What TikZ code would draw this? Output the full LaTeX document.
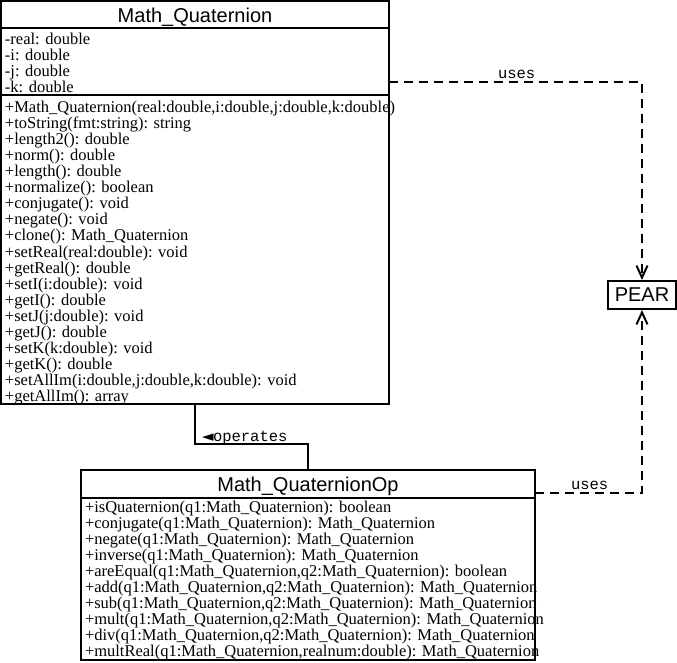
\documentclass[tikz,border=0pt]{standalone}
\usepackage{fontspec}
\setmainfont{Liberation Serif}
\newfontfamily\hv{Liberation Sans}
\newfontfamily\mono{Liberation Mono}
\newfontfamily\djv{DejaVu Sans}
\usetikzlibrary{arrows.meta}
\begin{document}
\begin{tikzpicture}[x=1pt,y=-1pt,line width=2pt,
  cls/.style={draw,line width=2pt,rectangle,inner sep=0pt,outer sep=0pt,anchor=north west},
  row/.style={anchor=base west,inner sep=0pt,font=\fontsize{16.5}{16}\selectfont},
  ttl/.style={anchor=base,inner sep=0pt,font=\hv\fontsize{20}{22}\selectfont},
  lbl/.style={anchor=base west,inner sep=0pt,font=\mono\fontsize{15.5}{16}\selectfont},
  dep/.style={line width=2pt,dash pattern=on 9pt off 6pt,-{Straight Barb[length=12pt,width=11pt,line width=2pt]}}]
\useasboundingbox (0,0) rectangle (677,663);
% class Math_Quaternion
\node[cls,minimum width=388pt,minimum height=403pt] (mq) at (1,1) {};
\draw (1,28) -- (389,28);
\draw (1,95) -- (389,95);
\node[ttl] (mqt) at (195,22.5) {Math\_Quaternion};
\foreach \t [count=\i from 0] in {{-real: double},{-i: double},{-j: double},{-k: double}}
  \node[row] (a\i) at (4,45+16*\i) {\t};
\foreach \t [count=\i from 0] in {
  {+Math\_Quaternion(real:double,i:double,j:double,k:double)},
  {+toString(fmt:string): string},
  {+length2(): double},
  {+norm(): double},
  {+length(): double},
  {+normalize(): boolean},
  {+conjugate(): void},
  {+negate(): void},
  {+clone(): Math\_Quaternion},
  {+setReal(real:double): void},
  {+getReal(): double},
  {+setI(i:double): void},
  {+getI(): double},
  {+setJ(j:double): void},
  {+getJ(): double},
  {+setK(k:double): void},
  {+getK(): double},
  {+setAllIm(i:double,j:double,k:double): void},
  {+getAllIm(): array}}
  \node[row] (m\i) at (4,112.5+16.06*\i) {\t};
% class Math_QuaternionOp
\node[cls,minimum width=454pt,minimum height=190pt] (mqo) at (81,470) {};
\draw (81,498) -- (535,498);
\node[ttl] (mqot) at (308,491.7) {Math\_QuaternionOp};
\foreach \t [count=\i from 0] in {
  {+isQuaternion(q1:Math\_Quaternion): boolean},
  {+conjugate(q1:Math\_Quaternion): Math\_Quaternion},
  {+negate(q1:Math\_Quaternion): Math\_Quaternion},
  {+inverse(q1:Math\_Quaternion): Math\_Quaternion},
  {+areEqual(q1:Math\_Quaternion,q2:Math\_Quaternion): boolean},
  {+add(q1:Math\_Quaternion,q2:Math\_Quaternion): Math\_Quaternion},
  {+sub(q1:Math\_Quaternion,q2:Math\_Quaternion): Math\_Quaternion},
  {+mult(q1:Math\_Quaternion,q2:Math\_Quaternion): Math\_Quaternion},
  {+div(q1:Math\_Quaternion,q2:Math\_Quaternion): Math\_Quaternion},
  {+multReal(q1:Math\_Quaternion,realnum:double): Math\_Quaternion}}
  \node[row] (o\i) at (84,512.5+16*\i) {\t};
% PEAR
\node[draw,line width=2pt,inner sep=0pt,minimum width=68pt,minimum height=28pt,
  font=\hv\fontsize{20}{22}\selectfont] (pear) at (642,295) {PEAR};
% connectors
\draw[dep] (mq.east |- 0,82) -| (pear.north);
\node[lbl] (u1) at (497,78.5) {uses};
\draw[dep] (mqo.east |- 0,493) -| (pear.south);
\node[lbl] (u2) at (570,489.5) {uses};
\coordinate (opbend) at (195,444);
\draw (mq.south -| opbend) -- (opbend) -| (mqo.north);
\node[lbl] (op) at (201,441.5) {\makebox[11pt][l]{\djv\fontsize{15}{15}\selectfont ◄}operates};
\end{tikzpicture}
\end{document}
